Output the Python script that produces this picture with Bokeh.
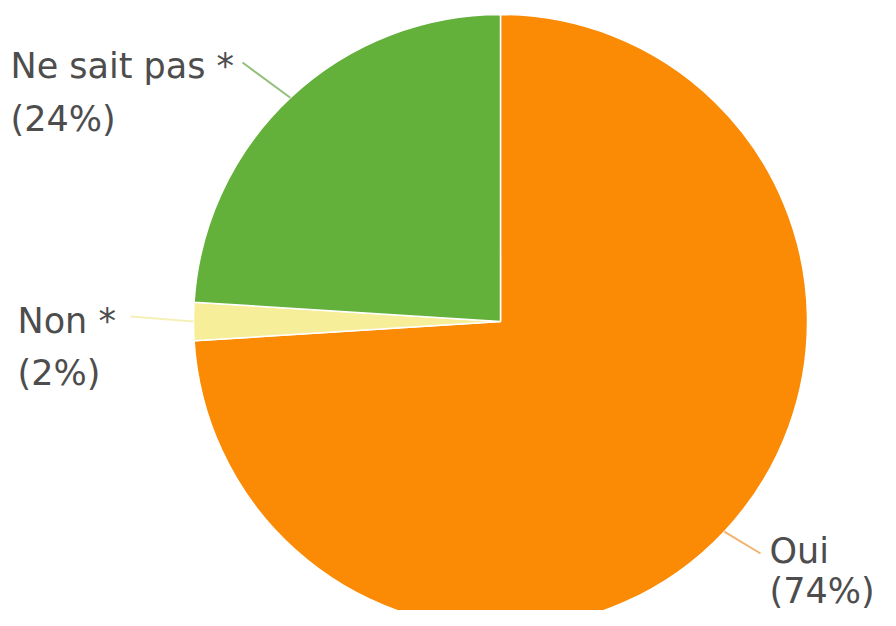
import math
from bokeh.plotting import figure
from bokeh.models import Range1d, ColumnDataSource
from bokeh.core.properties import value
from bokeh.embed import file_html
from bokeh.resources import INLINE

# ---- data ----
categories = ["Oui", "Non *", "Ne sait pas *"]
percents = [74, 2, 24]
colors = ["#fb8a05", "#f7ee9a", "#63b13b"]
line_colors = ["#f3b26e", "#f6f0b8", "#93bf7c"]

# ---- layout (image pixel coords) ----
W, H = 880, 610
cx, cy, R = 500, 321, 307
# label anchor (left x, baseline of first line, baseline of second line), leader end
label_pos = {
    "Oui": (769, 550, 590, (760, 553)),
    "Non *": (17, 320, 372, (130, 316)),
    "Ne sait pas *": (10, 65, 118, (242, 62)),
}

p = figure(width=W, height=H, output_backend="svg", toolbar_location=None,
           x_range=Range1d(0, W), y_range=Range1d(-H, 0))
p.axis.visible = False
p.grid.visible = False
p.outline_line_color = None
p.min_border = 0
p.background_fill_color = "white"

total = sum(percents)
starts, ends, mids = [], [], []
cum = 0.0
for v in percents:
    s = cum / total
    e = (cum + v) / total
    # clockwise from top
    starts.append(math.pi / 2 - 2 * math.pi * e)
    ends.append(math.pi / 2 - 2 * math.pi * s)
    mids.append(math.pi / 2 - 2 * math.pi * (s + e) / 2)
    cum += v

src = ColumnDataSource(dict(start=starts, end=ends, color=colors))
p.wedge(x=cx, y=-cy, radius=R, start_angle="start", end_angle="end",
        fill_color="color", line_color="white", line_width=1.5, source=src)

for cat, pct, m, lc in zip(categories, percents, mids, line_colors):
    lx, b1, b2, (ex, ey) = label_pos[cat]
    sx = cx + R * math.cos(m)
    sy = cy - R * math.sin(m)
    p.line([sx, ex], [-sy, -ey], line_color=lc, line_width=2)
    p.text(x=[lx, lx], y=[-b1, -b2], text=[cat, f"({pct}%)"],
           text_font=value("DejaVu Sans"), text_font_size="35px",
           text_color="#4d4d4d", text_baseline="alphabetic", text_align="left")

open("out.html", "w").write(file_html(p, INLINE))
